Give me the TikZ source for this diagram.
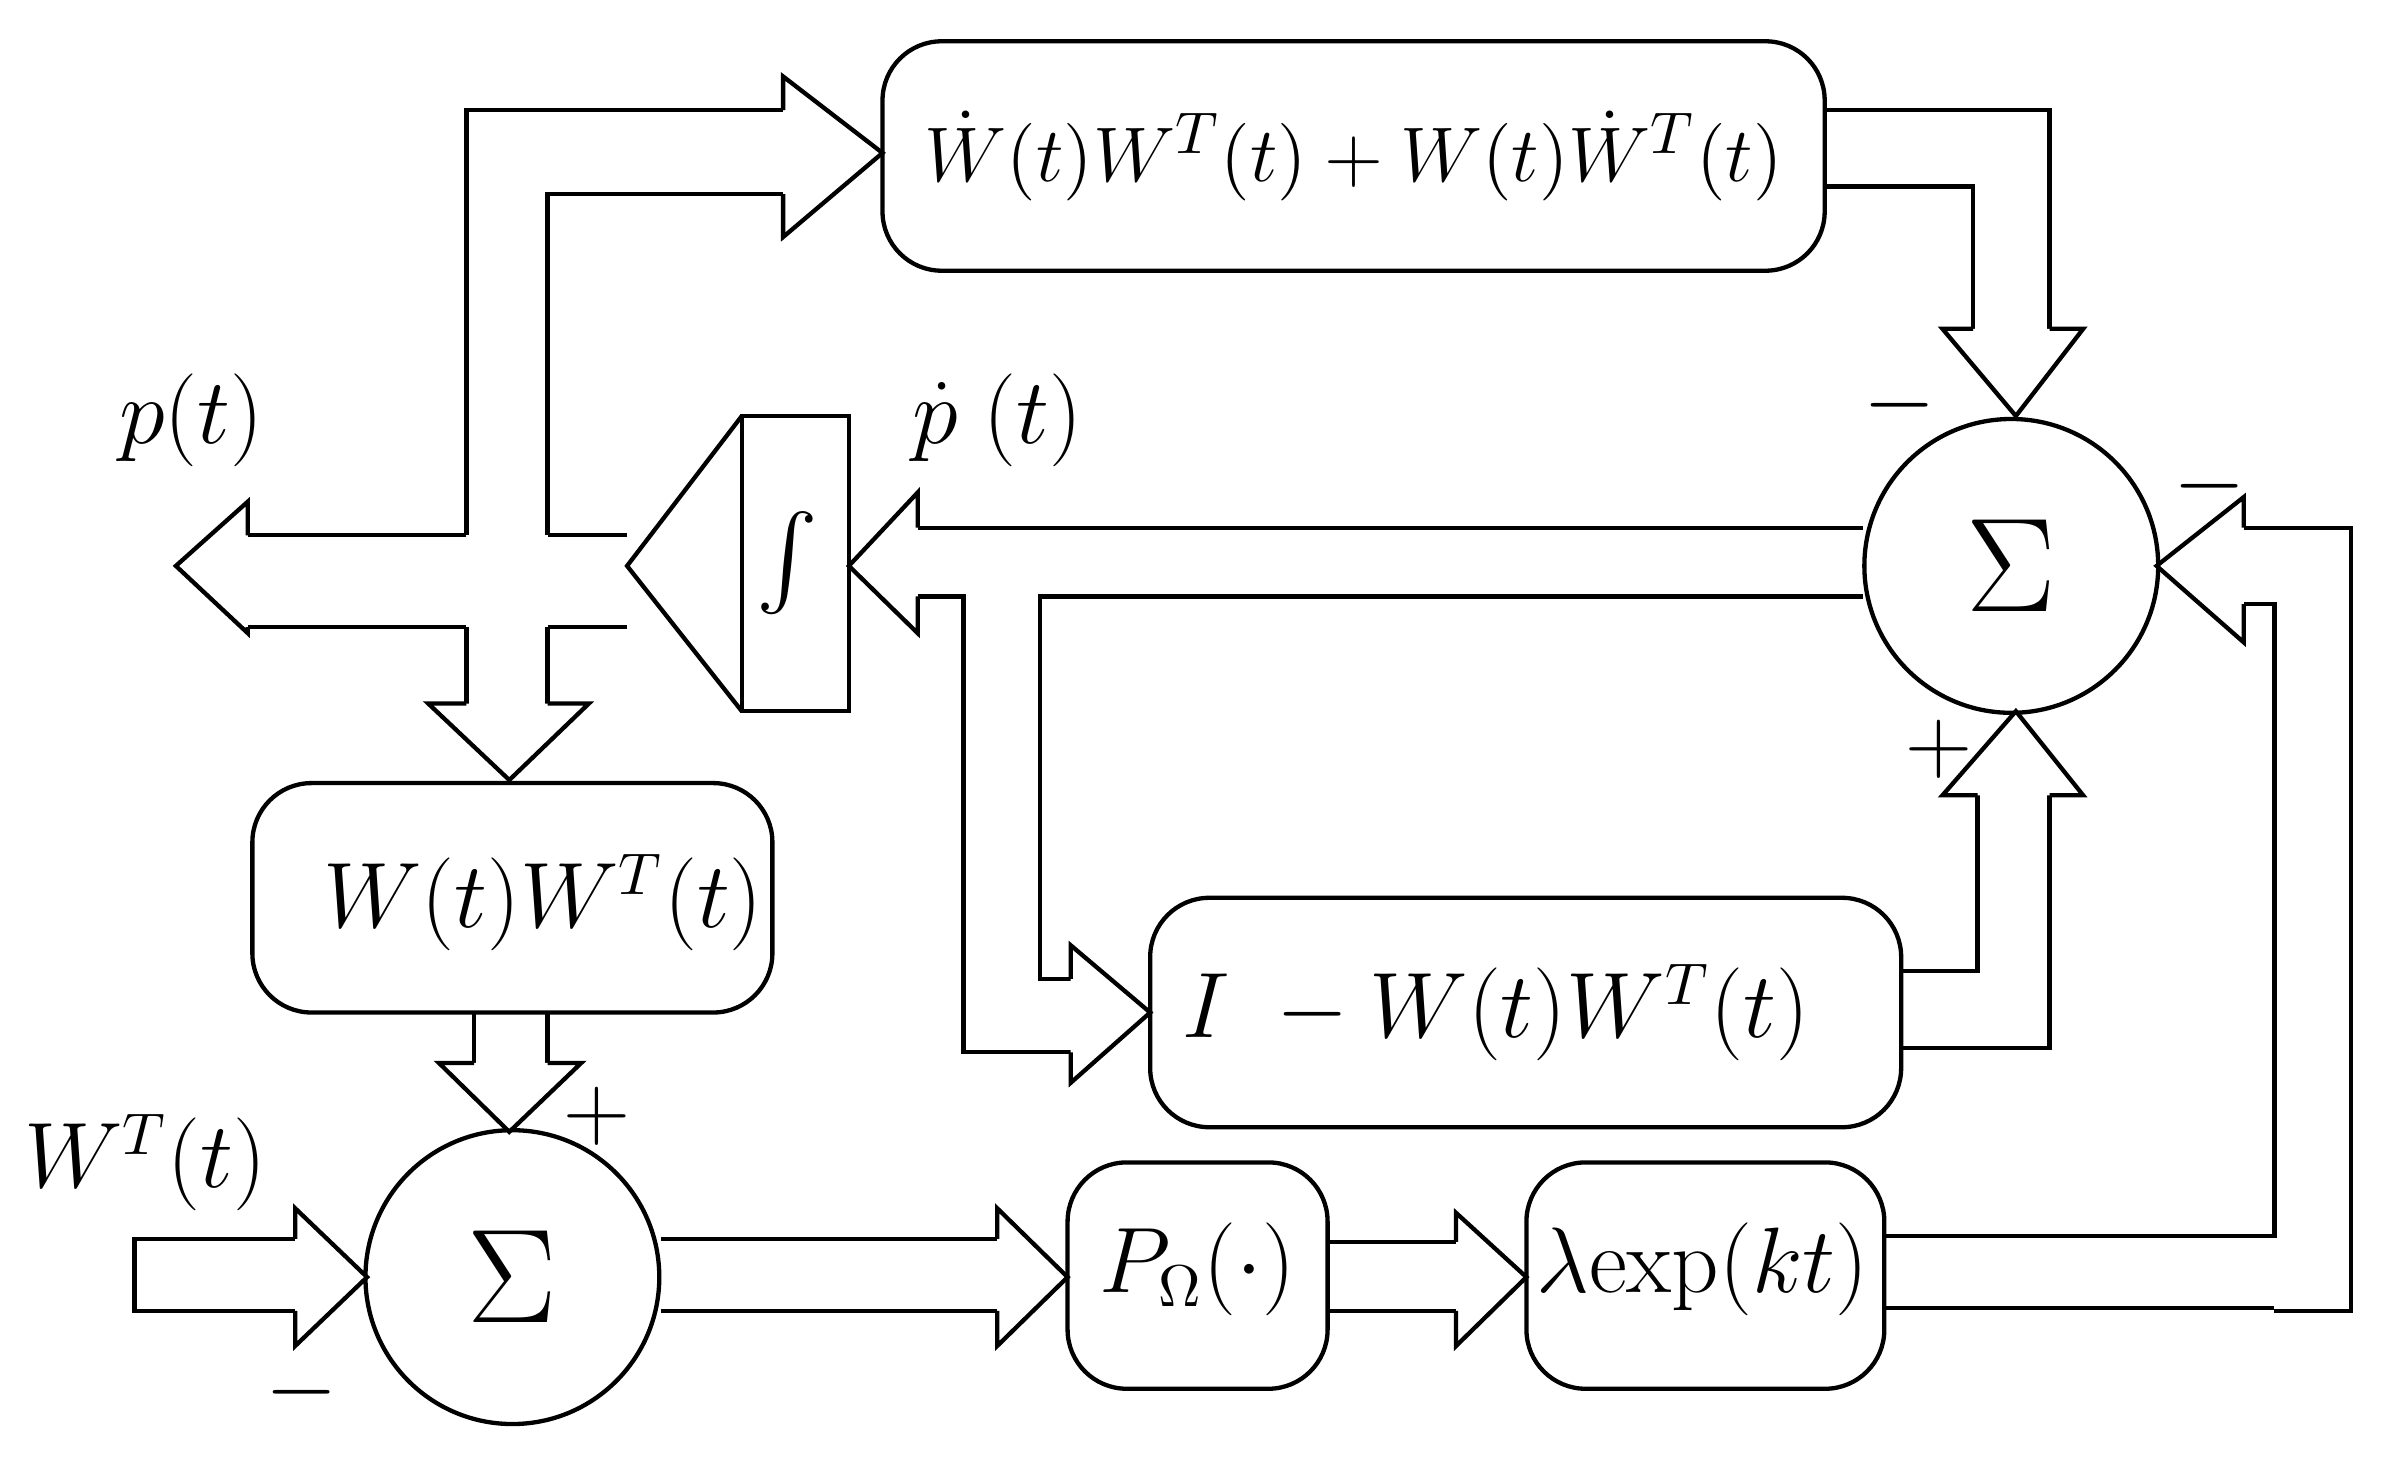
\documentclass[tikz,border=0pt]{standalone}
\usepackage{amsmath}
\begin{document}
\begin{tikzpicture}[x=0.01cm,y=-0.01cm,line width=0.8pt,
  box/.style={draw,rounded corners=11pt,inner sep=0pt},
  sum/.style={draw,circle,minimum size=1.92cm,inner sep=0pt,font=\fontsize{26}{30}\selectfont},
  lab/.style={font=\fontsize{16}{19}\selectfont},
  sg/.style={font=\fontsize{16}{19}\selectfont},
  ha/.style={draw,fill=white,line join=miter}]
\useasboundingbox (0,0) rectangle (1560,958);
\fontsize{16}{19}\selectfont
% boxes
\draw[box] (577,27) rectangle (1193,177);
\node[lab,font=\fontsize{15.5}{19}\selectfont] (top) at (885,102) {$\dot W(t)W^T(t)+W(t)\dot W^T(t)$};
\draw[box] (165,512) rectangle (505,662);
\node[lab] (ww) at (355,590) {$W(t)W^T(t)$};
\draw[box] (752,587) rectangle (1243,737);
\node[lab] (iww) at (978,662) {$I\ -W(t)W^T(t)$};
\draw[box] (698,760) rectangle (868,908);
\node[lab] (po) at (783,830) {$P_\Omega(\cdot)$};
\draw[box] (998,760) rectangle (1232,908);
\node[lab] (lam) at (1113,830) {$\lambda\mathrm{exp}(kt)$};
\node[sum] (s1) at (1315,370) {$\Sigma$};
\node[sum] (s2) at (335,835) {$\Sigma$};
% integrator
\draw (485,272) rectangle (555,465);
\node[lab] (int) at (515,368) {$\int$};
\draw (485,272) -- (410,370) -- (485,465);
% top-left T band
\draw (305,350) -- (305,72) -- (512,72);
\draw (358,350) -- (358,127) -- (512,127);
\draw[ha] (512,127) -- (512,155) -- (577,100) -- (512,50) -- (512,72);
\draw (305,410) -- (305,460); \draw (358,410) -- (358,460);
\draw[ha] (305,460) -- (280,460) -- (333,510) -- (385,460) -- (358,460);
% p(t) output
\draw (410,350) -- (358,350); \draw (305,350) -- (162,350);
\draw (410,410) -- (358,410); \draw (305,410) -- (162,410);
\draw[ha] (162,350) -- (162,328) -- (115,370) -- (162,414) -- (162,410);
% sum -> integrator and I-WW
\draw (1218,345) -- (600,345);
\draw (1218,390) -- (680,390) -- (680,640) -- (700,640);
\draw (600,390) -- (630,390) -- (630,688) -- (700,688);
\draw[ha] (600,345) -- (600,322) -- (555,370) -- (600,414) -- (600,390);
\draw[ha] (700,640) -- (700,618) -- (752,662) -- (700,708) -- (700,688);
% top box -> sum
\draw (1193,72) -- (1340,72) -- (1340,215);
\draw (1193,122) -- (1290,122) -- (1290,215);
\draw[ha] (1290,215) -- (1270,215) -- (1318,272) -- (1362,215) -- (1340,215);
% I-WW -> sum
\draw (1243,635) -- (1293,635) -- (1293,520);
\draw (1243,685) -- (1340,685) -- (1340,520);
\draw[ha] (1293,520) -- (1270,520) -- (1318,465) -- (1362,520) -- (1340,520);
% lambda -> sum
\draw (1232,808) -- (1487,808) -- (1487,395) -- (1467,395);
\draw (1232,855) -- (1487,855); \draw (1487,857) -- (1537,857) -- (1537,345) -- (1467,345);
\draw[ha] (1467,395) -- (1467,420) -- (1410,370) -- (1467,325) -- (1467,345);
% WW -> sum2
\draw (310,662) -- (310,695); \draw (358,662) -- (358,695);
\draw[ha] (310,695) -- (287,695) -- (333,740) -- (380,695) -- (358,695);
% W^T input
\draw (193,810) -- (88,810) -- (88,857) -- (193,857);
\draw[ha] (193,810) -- (193,790) -- (240,835) -- (193,880) -- (193,857);
% sum2 -> P
\draw (432,810) -- (652,810); \draw (432,857) -- (652,857);
\draw[ha] (652,810) -- (652,790) -- (698,835) -- (652,880) -- (652,857);
% P -> lambda
\draw (868,812) -- (952,812); \draw (868,857) -- (952,857);
\draw[ha] (952,812) -- (952,793) -- (998,835) -- (952,880) -- (952,857);
% labels
\node[lab] (lp) at (125,275) {$p(t)$};
\node[lab] (ldp) at (652,275) {$\dot p\ (t)$};
\node[lab] (lw) at (95,760) {$W^T(t)$};
\node[sg] (m1) at (1242,265) {$-$};
\node[sg] (m2) at (1445,318) {$-$};
\node[sg] (m3) at (197,910) {$-$};
\node[sg] (p1) at (1268,490) {$+$};
\node[sg] (p2) at (390,730) {$+$};
\end{tikzpicture}
\end{document}
